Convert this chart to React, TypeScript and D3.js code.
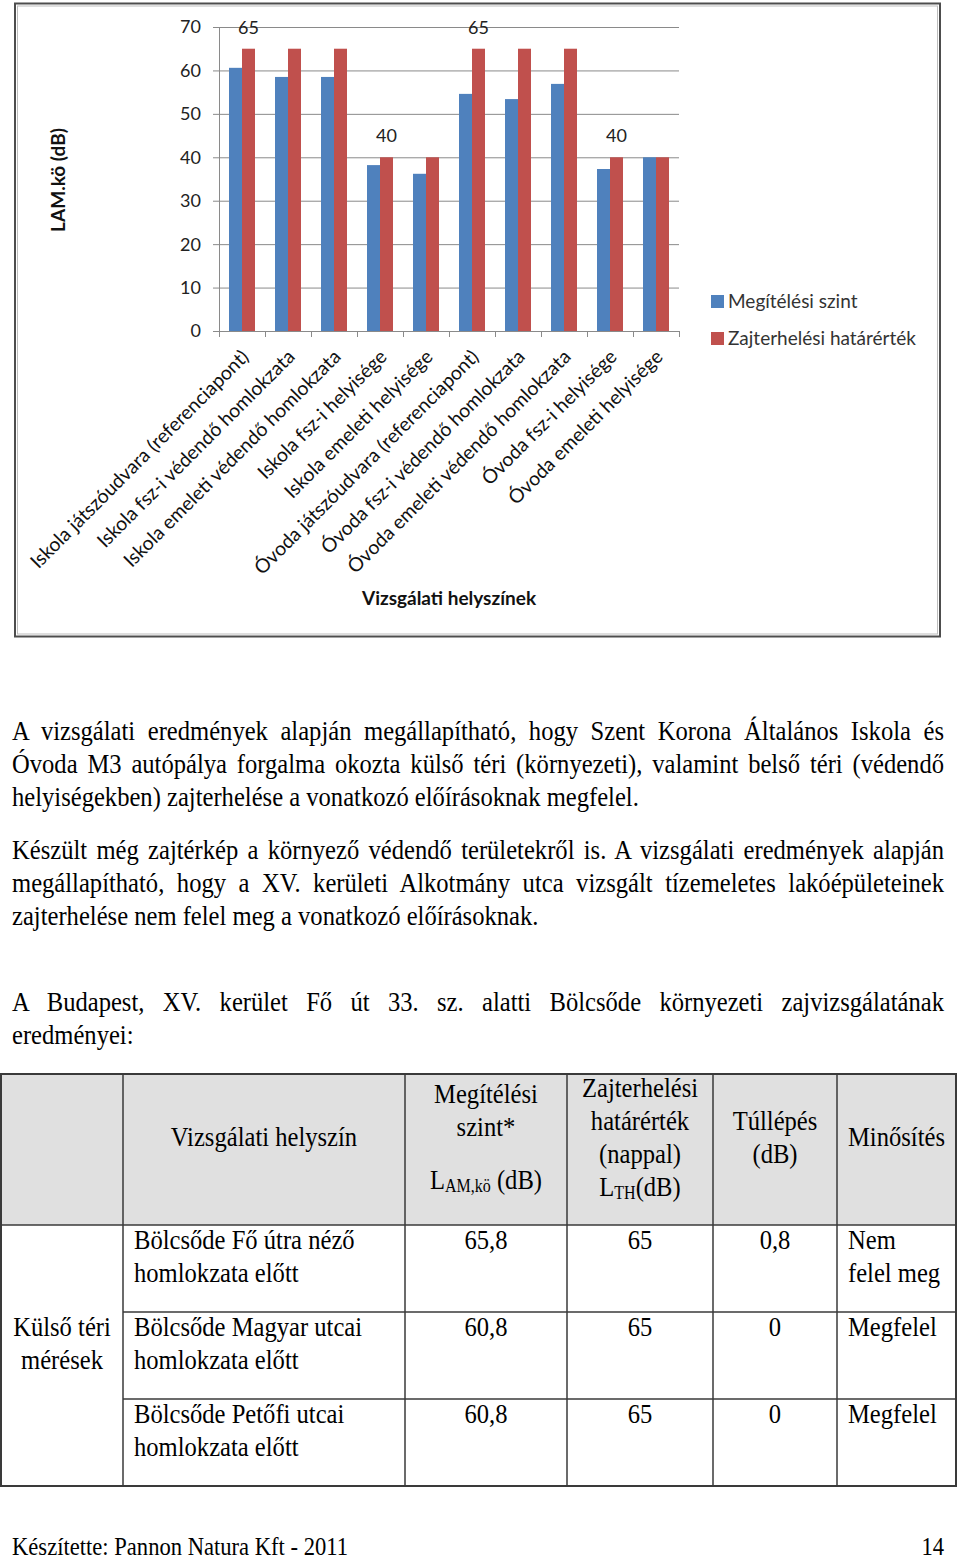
import React, { useEffect, useRef } from 'react';
import * as d3 from 'd3';

// chart data
const categories = [
  'Iskola játszóudvara (referenciapont)',
  'Iskola fsz-i védendő homlokzata',
  'Iskola emeleti védendő homlokzata',
  'Iskola fsz-i helyisége',
  'Iskola emeleti helyisége',
  'Óvoda játszóudvara (referenciapont)',
  'Óvoda fsz-i védendő homlokzata',
  'Óvoda emeleti védendő homlokzata',
  'Óvoda fsz-i helyisége',
  'Óvoda emeleti helyisége',
];
const megitelesiSzint = [60.6, 58.5, 58.5, 38.2, 36.2, 54.6, 53.4, 56.9, 37.3, 40];
const hatarertek = [65, 65, 65, 40, 40, 65, 65, 65, 40, 40];
const labelledBars = [0, 3, 5, 8];
const yTicks = [0, 10, 20, 30, 40, 50, 60, 70];
const seriesNames = ['Megítélési szint', 'Zajterhelési határérték'];
const seriesColors = ['#4F81BD', '#C0504D'];

// page text
const para1 = [
  'A vizsgálati eredmények alapján megállapítható, hogy Szent Korona Általános Iskola és',
  'Óvoda M3 autópálya forgalma okozta külső téri (környezeti), valamint belső téri (védendő',
  'helyiségekben) zajterhelése a vonatkozó előírásoknak megfelel.',
];
const para2 = [
  'Készült még zajtérkép a környező védendő területekről is. A vizsgálati eredmények alapján',
  'megállapítható, hogy a XV. kerületi Alkotmány utca vizsgált tízemeletes lakóépületeinek',
  'zajterhelése nem felel meg a vonatkozó előírásoknak.',
];
const para3 = [
  'A Budapest, XV. kerület Fő út 33. sz. alatti Bölcsőde környezeti zajvizsgálatának',
  'eredményei:',
];

// table data
const rowPlaces = [
  ['Bölcsőde Fő útra néző', 'homlokzata előtt'],
  ['Bölcsőde Magyar utcai', 'homlokzata előtt'],
  ['Bölcsőde Petőfi utcai', 'homlokzata előtt'],
];
const rowLevels = ['65,8', '60,8', '60,8'];
const rowLimits = ['65', '65', '65'];
const rowOver = ['0,8', '0', '0'];
const rowRating = [['Nem', 'felel meg'], ['Megfelel'], ['Megfelel']];
const groupLabel = ['Külső téri', 'mérések'];
const footerText = 'Készítette: Pannon Natura Kft - 2011';
const pageNumber = '14';

const W = 960;
const H = 1560;
const SANS = 'Lato, "Open Sans", sans-serif';
const SERIF = '"Liberation Serif", "Times New Roman", serif';
const SY = 1.15; // the page scan is stretched vertically
const FS = 24.6;

export default function App() {
  const svgRef = useRef<SVGSVGElement>(null);

  useEffect(() => {
    document.body.style.margin = '0';
    if (!svgRef.current) return;
    const svg = d3.select(svgRef.current);
    svg.selectAll('*').remove();
    svg.attr('width', W).attr('height', H);

    svg.append('rect').attr('width', W).attr('height', H).attr('fill', '#fff');

    // ---------- chart ----------
    const frame = svg.append('g');
    frame.append('rect')
      .attr('x', 15).attr('y', 3.5).attr('width', 925).attr('height', 633)
      .attr('fill', '#fff').attr('stroke', '#4d4d4d').attr('stroke-width', 2);
    frame.append('rect')
      .attr('x', 17.5).attr('y', 6).attr('width', 920).attr('height', 628)
      .attr('fill', 'none').attr('stroke', '#bdbdbd').attr('stroke-width', 1);

    const plot = { left: 219, right: 679, top: 27, bottom: 331 };
    const x = d3.scaleBand<string>()
      .domain(categories)
      .range([plot.left, plot.right])
      .paddingInner(0.435)
      .paddingOuter(0.2175);
    const x1 = d3.scaleBand<number>().domain([0, 1]).range([0, x.bandwidth()]);
    const y = d3.scaleLinear().domain([0, 70]).range([plot.bottom, plot.top]);
    const step = x.step();

    const g = svg.append('g');

    // gridlines
    g.selectAll('line.grid')
      .data(yTicks.filter((t) => t > 0))
      .join('line')
      .attr('x1', plot.left).attr('x2', plot.right)
      .attr('y1', (d) => y(d) + 0.5).attr('y2', (d) => y(d) + 0.5)
      .attr('stroke', '#8a8a8a').attr('stroke-width', 1);

    // y axis
    g.append('line')
      .attr('x1', plot.left + 0.5).attr('x2', plot.left + 0.5)
      .attr('y1', plot.top).attr('y2', plot.bottom)
      .attr('stroke', '#8a8a8a');
    g.selectAll('line.ytick')
      .data(yTicks)
      .join('line')
      .attr('x1', plot.left - 6).attr('x2', plot.left)
      .attr('y1', (d) => y(d) + 0.5).attr('y2', (d) => y(d) + 0.5)
      .attr('stroke', '#8a8a8a');
    g.selectAll('text.ytick')
      .data(yTicks)
      .join('text')
      .attr('x', 201).attr('y', (d) => y(d))
      .attr('dy', '0.36em')
      .attr('text-anchor', 'end')
      .attr('font-family', SANS).attr('font-size', 18).attr('fill', '#222')
      .text((d) => d);

    // bars
    const groups = g.selectAll('g.cat')
      .data(categories)
      .join('g')
      .attr('transform', (d) => `translate(${x(d)},0)`);
    groups.each(function (_d, i) {
      const vals = [megitelesiSzint[i], hatarertek[i]];
      d3.select(this).selectAll('rect')
        .data(vals)
        .join('rect')
        .attr('x', (_v, j) => x1(j)!)
        .attr('width', x1.bandwidth())
        .attr('y', (v) => y(v))
        .attr('height', (v) => y(0) - y(v))
        .attr('fill', (_v, j) => seriesColors[j]);
    });

    // x axis
    g.append('line')
      .attr('x1', plot.left).attr('x2', plot.right)
      .attr('y1', plot.bottom + 0.5).attr('y2', plot.bottom + 0.5)
      .attr('stroke', '#8a8a8a');
    g.selectAll('line.xtick')
      .data(d3.range(categories.length + 1))
      .join('line')
      .attr('x1', (i) => plot.left + i * step + 0.5)
      .attr('x2', (i) => plot.left + i * step + 0.5)
      .attr('y1', plot.bottom).attr('y2', plot.bottom + 6)
      .attr('stroke', '#8a8a8a');

    // data labels
    g.selectAll('text.dlabel')
      .data(labelledBars)
      .join('text')
      .attr('x', (i) => x(categories[i])! + x1(1)! + x1.bandwidth() / 2)
      .attr('y', (i) => y(hatarertek[i]) - 15)
      .attr('text-anchor', 'middle')
      .attr('font-family', SANS).attr('font-size', 18).attr('fill', '#222')
      .text((i) => hatarertek[i]);

    // category labels
    g.selectAll('text.cat')
      .data(categories)
      .join('text')
      .attr('transform', (d) => `translate(${x(d)! + x.bandwidth() / 2 + 8},358) rotate(-45)`)
      .attr('text-anchor', 'end')
      .attr('font-family', SANS).attr('font-size', 19.4).attr('fill', '#111')
      .text((d) => d);

    // axis titles
    g.append('text')
      .attr('transform', 'translate(65,180) rotate(-90)')
      .attr('text-anchor', 'middle')
      .attr('font-family', SANS).attr('font-size', 19).attr('font-weight', 700).attr('fill', '#111')
      .text('LAM.kö (dB)');
    g.append('text')
      .attr('x', 449).attr('y', 605)
      .attr('text-anchor', 'middle')
      .attr('font-family', SANS).attr('font-size', 19).attr('font-weight', 700).attr('fill', '#111')
      .text('Vizsgálati helyszínek');

    // legend
    const legend = g.selectAll('g.leg')
      .data(seriesNames)
      .join('g')
      .attr('transform', (_d, i) => `translate(711,${295 + i * 37})`);
    legend.append('rect')
      .attr('width', 13).attr('height', 13)
      .attr('fill', (_d, i) => seriesColors[i]);
    legend.append('text')
      .attr('x', 17).attr('y', 6.5).attr('dy', '0.36em')
      .attr('font-family', SANS).attr('font-size', 19).attr('fill', '#333')
      .text((d) => d);

    // ---------- text ----------
    const txt = svg.append('g').attr('font-family', SERIF).attr('fill', '#000');
    const put = (parent: any, px: number, py: number, str: string, anchor = 'start', size = FS) =>
      parent.append('text')
        .attr('transform', `translate(${px},${py}) scale(1,${SY})`)
        .attr('text-anchor', anchor)
        .attr('font-size', size)
        .text(str);

    const left = 12;
    const right = 944;
    const lineH = 33;

    const drawPara = (lines: string[], y0: number) => {
      lines.forEach((line, i) => {
        const t = put(txt, left, y0 + i * lineH, line);
        if (i < lines.length - 1) {
          const natural = (t.node() as SVGTextElement).getComputedTextLength();
          const gaps = (line.match(/ /g) || []).length;
          if (gaps > 0) t.attr('word-spacing', (right - left - natural) / gaps);
        }
      });
    };
    drawPara(para1, 740);
    drawPara(para2, 859);
    drawPara(para3, 1011);

    // ---------- table ----------
    const cols = [1, 123, 405, 567, 713, 837, 956];
    const rowsY = [1074, 1225, 1312, 1399, 1486];
    const tbl = svg.append('g').attr('font-family', SERIF).attr('fill', '#000');

    // header fill
    tbl.selectAll('rect.hd')
      .data(d3.range(cols.length - 1))
      .join('rect')
      .attr('x', (i) => cols[i]).attr('y', rowsY[0])
      .attr('width', (i) => cols[i + 1] - cols[i]).attr('height', rowsY[1] - rowsY[0])
      .attr('fill', '#e0e0e0');

    const cx = (i: number) => (cols[i] + cols[i + 1]) / 2;
    const hText = (lines: string[], col: number, ys: number[]) => {
      lines.forEach((l, k) => put(tbl, cx(col), ys[k], l, 'middle'));
    };
    hText(['Vizsgálati helyszín'], 1, [1146]);
    hText(['Megítélési', 'szint*'], 2, [1103, 1136]);
    const lam = put(tbl, cx(2), 1189, '', 'middle');
    lam.append('tspan').text('L');
    lam.append('tspan').attr('font-size', 16).attr('dy', 3).text('AM,kö');
    lam.append('tspan').attr('dy', -3).text(' (dB)');
    hText(['Zajterhelési', 'határérték', '(nappal)'], 3, [1097, 1130, 1163]);
    const lth = put(tbl, cx(3), 1196, '', 'middle');
    lth.append('tspan').text('L');
    lth.append('tspan').attr('font-size', 16).attr('dy', 3).text('TH');
    lth.append('tspan').attr('dy', -3).text('(dB)');
    hText(['Túllépés', '(dB)'], 4, [1130, 1163]);
    hText(['Minősítés'], 5, [1146]);

    // body rows
    rowPlaces.forEach((p, r) => {
      const top = rowsY[r + 1];
      p.forEach((l, k) => put(tbl, cols[1] + 11, top + 24 + k * 33, l));
      put(tbl, cx(2), top + 24, rowLevels[r], 'middle');
      put(tbl, cx(3), top + 24, rowLimits[r], 'middle');
      put(tbl, cx(4), top + 24, rowOver[r], 'middle');
      rowRating[r].forEach((l, k) => put(tbl, cols[5] + 11, top + 24 + k * 33, l));
    });
    groupLabel.forEach((l, k) => put(tbl, cx(0), 1336 + k * 33, l, 'middle'));

    // grid lines
    const lineCol = '#3a3a3a';
    tbl.append('rect')
      .attr('x', cols[0]).attr('y', rowsY[0])
      .attr('width', cols[6] - cols[0]).attr('height', rowsY[4] - rowsY[0])
      .attr('fill', 'none').attr('stroke', lineCol).attr('stroke-width', 2);
    cols.slice(1, -1).forEach((c) => {
      tbl.append('line').attr('x1', c).attr('x2', c).attr('y1', rowsY[0]).attr('y2', rowsY[4])
        .attr('stroke', lineCol).attr('stroke-width', 1.5);
    });
    tbl.append('line').attr('x1', cols[0]).attr('x2', cols[6]).attr('y1', rowsY[1]).attr('y2', rowsY[1])
      .attr('stroke', lineCol).attr('stroke-width', 1.5);
    [rowsY[2], rowsY[3]].forEach((yy) => {
      tbl.append('line').attr('x1', cols[1]).attr('x2', cols[6]).attr('y1', yy).attr('y2', yy)
        .attr('stroke', lineCol).attr('stroke-width', 1.5);
    });

    // footer
    put(txt, 12, 1555, footerText, 'start', 22.6);
    put(txt, 944, 1555, pageNumber, 'end', 22.6);
  }, []);

  return <svg ref={svgRef} style={{ display: 'block' }} />;
}
